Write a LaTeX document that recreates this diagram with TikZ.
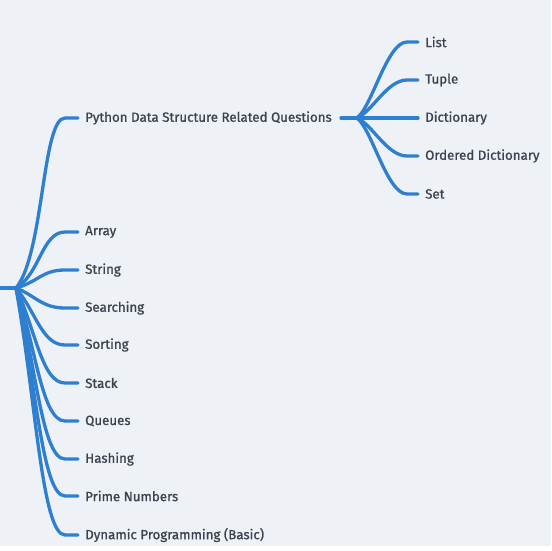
\documentclass[tikz,border=0pt]{standalone}
\usepackage{fontspec}
\setmainfont{Fira Sans}
\newfontfamily\lblfont{Fira Sans}[FakeBold=1.0]
\usetikzlibrary{calc}
\definecolor{bgc}{HTML}{EEF2F6}
\definecolor{linec}{HTML}{2F7FD1}
\definecolor{txtc}{HTML}{3B4350}
\tikzset{
  lbl/.style={anchor=west, inner sep=0pt, text=txtc, font=\lblfont\fontsize{13.3}{16}\selectfont},
  br/.style={draw=linec, line width=3.3pt, line cap=round, line join=round},
}
\begin{document}
\begin{tikzpicture}[x=1pt,y=-1pt]
\useasboundingbox (0,0) rectangle (551,551);
\fill[white] (0,0) rectangle (551,551);
\fill[bgc] (0,0) rectangle (551,546);
% root
\coordinate (r0) at (0,288);
\coordinate (root) at (16,288);
\node[lbl] (py) at (85,118) {Python Data Structure Related Questions};
\node[lbl] (arr) at (85,232) {Array};
\node[lbl] (str) at (85,270) {String};
\node[lbl] (sea) at (85,308) {Searching};
\node[lbl] (sor) at (85,345) {Sorting};
\node[lbl] (sta) at (85,383) {Stack};
\node[lbl] (que) at (85,421) {Queues};
\node[lbl] (has) at (85,459) {Hashing};
\node[lbl] (pri) at (85,496) {Prime Numbers};
\node[lbl] (dyn) at (85,535) {Dynamic Programming (Basic)};
% sub
\coordinate (pyr) at ($(py.east)+(9,0)$);
\coordinate (pyb) at ($(py.east)+(25,0)$);
\node[lbl] (lis) at (425,42) {List};
\node[lbl] (tup) at (425,80) {Tuple};
\node[lbl] (dic) at (425,118) {Dictionary};
\node[lbl] (odi) at (425,156) {Ordered Dictionary};
\node[lbl] (set) at (425,194) {Set};

\draw[br] (r0) -- (root);
\foreach \n/\kx/\ky in {py/28/-34,arr/24/-14,str/22/-6,sea/20/8,sor/20/24,sta/20/43,que/20/60,has/20/77,pri/20/94,dyn/20/112}{
  \draw[br] (root) .. controls +(\kx,\ky) and +(-23,0) .. ($(\n.west)+(-20,0)$) -- ($(\n.west)+(-7,0)$);
}
\draw[br] (pyr) -- (pyb);
\foreach \n/\k in {lis/-11,tup/-6,dic/0,odi/6,set/11}{
  \draw[br] (pyb) .. controls +(15,\k) and +(-20,0) .. ($(\n.west)+(-18,0)$) -- ($(\n.west)+(-7,0)$);
}
\end{tikzpicture}
\end{document}
